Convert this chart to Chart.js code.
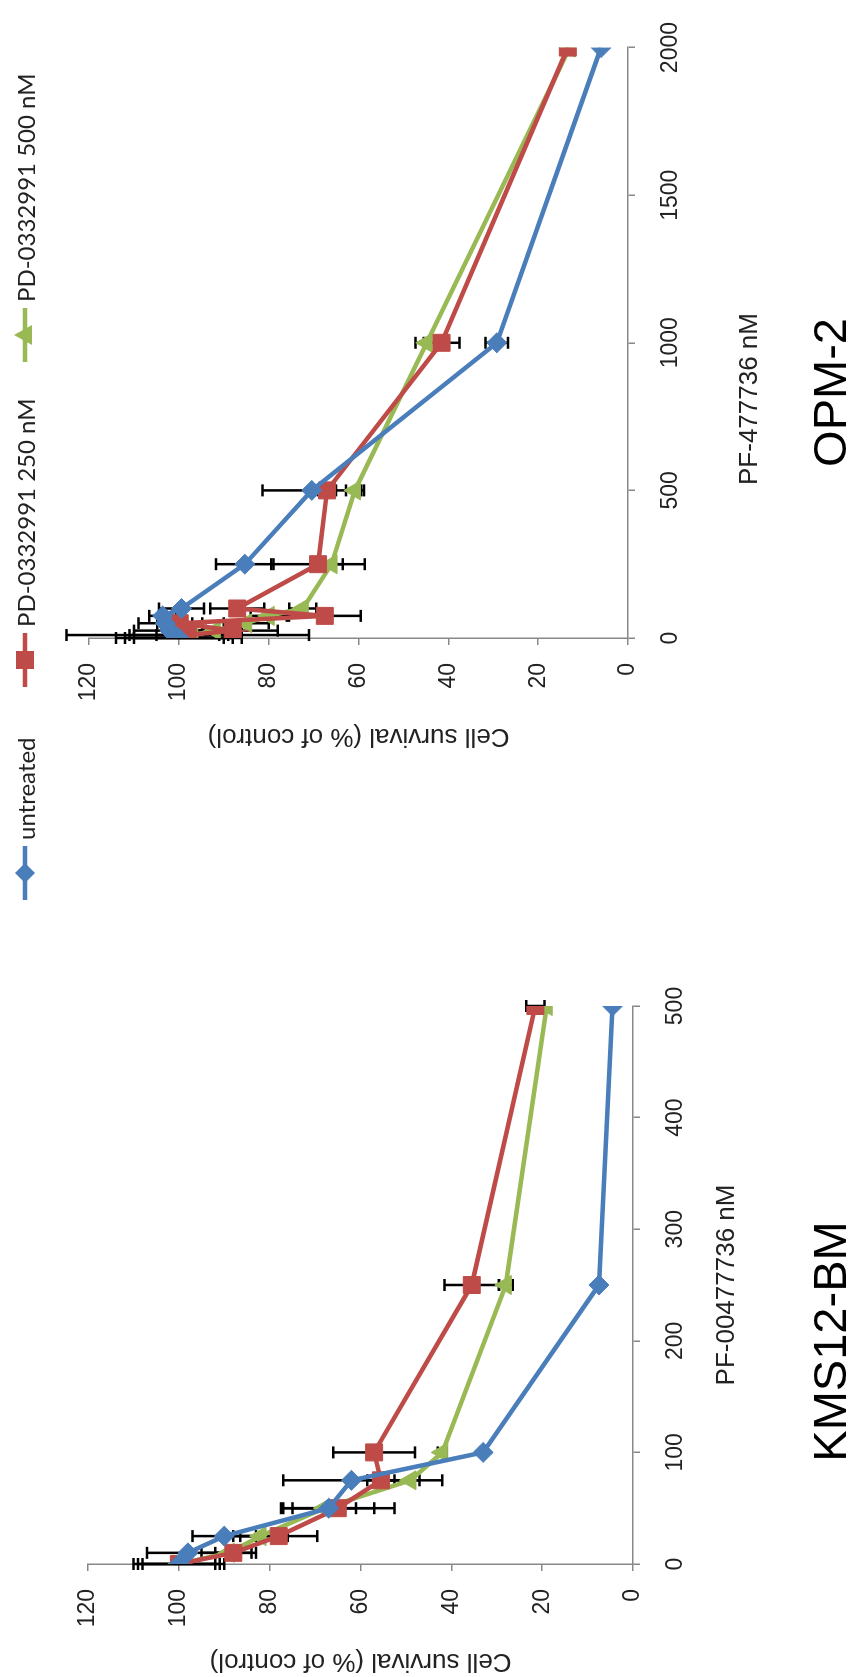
<!DOCTYPE html>
<html>
<head>
<meta charset="utf-8">
<script src="https://cdn.jsdelivr.net/npm/chart.js@4.4.1/dist/chart.umd.min.js"></script>
<style>
  body { margin: 0; background: #fff; width: 857px; height: 1677px; overflow: hidden; position: relative; }
  /* the whole figure is laid out landscape and turned a quarter left */
  #fig { position: absolute; left: 0; top: 0; width: 1677px; height: 857px;
         transform-origin: 0 0; transform: translate(0, 1677px) rotate(-90deg); }
  #fig canvas { position: absolute; top: 0; }
  #kms { left: 0; }
  #opm { left: 925px; }
  .legend { position: absolute; top: 10px; height: 30px; display: flex; align-items: center;
            font-family: Lato, "Open Sans", sans-serif; font-size: 24px; color: #222; }
  .legend svg { margin-right: 6px; }
  .axtitle { position: absolute; font-family: "Liberation Sans", Arial, sans-serif; font-size: 26px;
             color: #222; white-space: nowrap; transform: translate(-50%, -50%); }
</style>
</head>
<body>
<div id="fig">
  <canvas id="kms" width="720" height="857"></canvas>
  <canvas id="opm" width="752" height="857"></canvas>
  <div id="legend"></div>
  <div class="axtitle" style="left:1278px; top:748px;">PF-477736 nM</div>
</div>
<script>
// series
const seriesNames = ['untreated', 'PD-0332991 250 nM', 'PD-0332991 500 nM'];
const seriesColors = ['#4A7EBB', '#BE4B48', '#98B954'];
const seriesMarkers = ['rectRot', 'rect', 'triangle'];

// KMS12-BM, PF-00477736 nM
const kmsDoses = [0, 10, 25, 50, 75, 100, 250, 500];
const kmsUntreated = [100, 98, 90, 67, 62, 33, 7.5, 4.5];
const kmsUntreatedErr = [10, 9, 7, 10, 15, 0, 0, 0];
const kms250 = [100, 88, 78, 65, 55.5, 57, 35.5, 21.5];
const kms250Err = [8, 4, 8.5, 12.5, 3, 9, 6, 2];
const kms500 = [100, 89, 82, 68, 49, 42, 28, 19];
const kms500Err = [9, 6, 6, 7, 7, 1, 1.5, 0];

// OPM-2, PF-477736 nM
const opmDoses = [0, 10, 25, 50, 75, 100, 250, 500, 1000, 2000];
const opmUntreated = [100, 101, 102, 103, 103.6, 99.4, 85.3, 70.4, 29.2, 6];
const opmUntreatedErr = [14, 10, 8, 6, 3, 5, 6.4, 11, 2.5, 0];
const opm250 = [100, 98, 88, 99.8, 67.5, 87, 69, 67, 41.5, 13.4];
const opm250Err = [12, 27, 10, 5, 8, 6, 10.4, 2, 4, 0];
const opm500 = [100, 97, 92, 85, 80, 72.4, 66, 60.8, 44.8, 13];
const opm500Err = [10, 8, 6, 5, 4, 3, 2.5, 2, 2.5, 0];

const valueTicks = { min: 0, max: 120, step: 20 };

const errorBars = {
  id: 'errorBars',
  beforeDatasetsDraw(chart) {
    const { ctx, scales: { x, y } } = chart;
    ctx.save();
    ctx.strokeStyle = '#000';
    ctx.lineWidth = 2.5;
    chart.data.datasets.forEach(ds => {
      ds.data.forEach((p, i) => {
        const e = ds.errors[i];
        if (!e) return;
        const px = x.getPixelForValue(p.x);
        const hi = y.getPixelForValue(p.y + e);
        const lo = y.getPixelForValue(p.y - e);
        ctx.beginPath();
        ctx.moveTo(px, hi); ctx.lineTo(px, lo);
        ctx.moveTo(px - 6, hi); ctx.lineTo(px + 6, hi);
        ctx.moveTo(px - 6, lo); ctx.lineTo(px + 6, lo);
        ctx.stroke();
      });
    });
    ctx.restore();
  }
};

function makeSets(doses, vals, errs) {
  return vals.map((v, k) => ({
    label: seriesNames[k],
    data: doses.map((d, i) => ({ x: d, y: v[i] })),
    errors: errs[k],
    borderColor: seriesColors[k],
    backgroundColor: seriesColors[k],
    borderWidth: 4.5,
    pointStyle: seriesMarkers[k],
    pointRadius: [10, 12, 11][k],
    pointBorderWidth: 1,
    tension: 0
  }));
}

const axisGrey = '#888';
const tickFont = { family: 'Liberation Sans', size: 23 };

function makeChart(id, cfg) {
  return new Chart(document.getElementById(id), {
    type: 'line',
    data: { datasets: makeSets(cfg.doses, cfg.vals, cfg.errs) },
    plugins: [errorBars],
    options: {
      responsive: false,
      animation: false,
      layout: { padding: { top: cfg.top, right: cfg.right, left: 0, bottom: 0 } },
      plugins: {
        legend: { display: false },
        tooltip: { enabled: false },
        title: {
          display: true, position: 'bottom', text: cfg.title, color: '#000',
          font: { family: 'Liberation Sans', size: 47, lineHeight: 1, weight: 'normal' },
          padding: 0
        }
      },
      scales: {
        x: {
          type: 'linear', min: 0, max: cfg.maxDose,
          ticks: { stepSize: cfg.doseStep, font: tickFont, color: '#222', padding: 22, maxRotation: 0,
                   callback: v => String(v) },
          grid: { drawOnChartArea: false, tickLength: 7, color: axisGrey, lineWidth: 1.5 },
          border: { color: axisGrey, width: 1.5 },
          title: {
            display: cfg.doseTitle !== '', text: cfg.doseTitle, color: '#222',
            font: { family: 'Liberation Sans', size: 26 }, padding: { top: 0, bottom: 68 }
          },
          afterFit: s => { s.height = cfg.xHeight; }
        },
        y: {
          min: valueTicks.min, max: valueTicks.max,
          ticks: { stepSize: valueTicks.step, font: tickFont, color: '#222', padding: 18,
                   callback: v => String(v) },
          grid: { drawOnChartArea: false, tickLength: 7, color: axisGrey, lineWidth: 1.5 },
          border: { color: axisGrey, width: 1.5 },
          title: {
            display: true, text: 'Cell survival (% of control)', color: '#222',
            font: { family: 'Liberation Sans', size: 26 }, padding: 0
          },
          afterFit: s => { s.width = cfg.yWidth; }
        }
      }
    }
  });
}

makeChart('kms', {
  doses: kmsDoses,
  vals: [kmsUntreated, kms250, kms500],
  errs: [kmsUntreatedErr, kms250Err, kms500Err],
  title: 'KMS12-BM', doseTitle: 'PF-00477736 nM',
  maxDose: 500, doseStep: 100, top: 88, right: 49, xHeight: 177, yWidth: 113
});

makeChart('opm', {
  doses: opmDoses,
  vals: [opmUntreated, opm250, opm500],
  errs: [opmUntreatedErr, opm250Err, opm500Err],
  title: 'OPM-2', doseTitle: '',
  maxDose: 2000, doseStep: 500, top: 89, right: 33, xHeight: 182, yWidth: 114
});

// legend laid out along the top of the landscape figure
const legendLeft = [777, 990, 1315];
const legendEl = document.getElementById('legend');
seriesNames.forEach((name, k) => {
  const item = document.createElement('div');
  item.className = 'legend';
  item.style.left = legendLeft[k] + 'px';
  const c = seriesColors[k];
  let mark;
  if (k === 0) mark = `<polygon points="27,5 37,15 27,25 17,15" fill="${c}"/>`;
  else if (k === 1) mark = `<rect x="18" y="6" width="18" height="18" fill="${c}"/>`;
  else mark = `<polygon points="27,4 37,22 17,22" fill="${c}"/>`;
  item.innerHTML = `<svg width="54" height="30"><line x1="0" y1="15" x2="54" y2="15" stroke="${c}" stroke-width="4.5"/>${mark}</svg><span>${name}</span>`;
  legendEl.appendChild(item);
});
</script>
</body>
</html>
